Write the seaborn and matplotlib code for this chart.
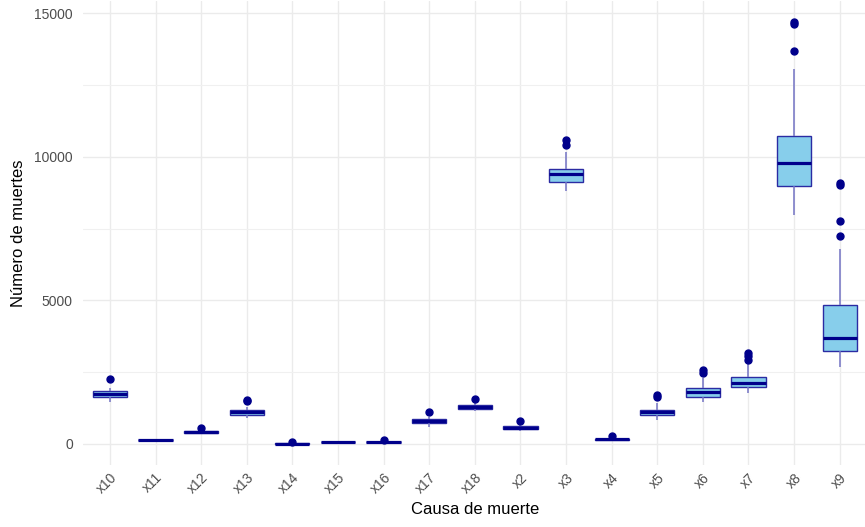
import numpy as np
import pandas as pd
import matplotlib
matplotlib.use("Agg")
import matplotlib.pyplot as plt
import seaborn as sns

# ---- data (summary statistics per cause) ----
causas = ["x10", "x11", "x12", "x13", "x14", "x15", "x16", "x17", "x18",
          "x2", "x3", "x4", "x5", "x6", "x7", "x8", "x9"]
bigote_inf = [1470, 110, 340, 900, 0, 50, 45, 600, 1160,
              450, 8800, 100, 835, 1450, 1785, 7970, 2690]
cuartil_1 = [1625, 125, 390, 1000, 5, 60, 55, 720, 1228,
             510, 9118, 140, 1000, 1650, 1970, 8990, 3247]
mediana = [1740, 140, 420, 1096, 15, 70, 68, 790, 1290,
           567, 9385, 165, 1102, 1800, 2112, 9780, 3678]
cuartil_3 = [1845, 155, 450, 1190, 25, 80, 80, 860, 1347,
             620, 9560, 190, 1183, 1960, 2330, 10718, 4837]
bigote_sup = [1950, 170, 500, 1300, 35, 90, 100, 950, 1430,
              700, 10150, 230, 1416, 2300, 2780, 13040, 6775]
atipicos = [[2250], [], [570], [1490, 1530], [60], [], [130], [1100], [1566],
            [800], [10405, 10580], [280], [1650, 1700], [2480, 2560],
            [2920, 3060, 3170], [13690, 14620, 14700], [7250, 7760, 9013, 9093]]

# expand the read statistics into long-form observations for seaborn
filas = []
for c, lo, q1, md, q3, hi, out in zip(causas, bigote_inf, cuartil_1, mediana,
                                       cuartil_3, bigote_sup, atipicos):
    k = len(out)
    m = k + 3
    vals = [lo] + [q1] * (m + k) + [md] + [q3] * m + [hi] + list(out)
    filas += [(c, v) for v in vals]
df = pd.DataFrame(filas, columns=["causa", "muertes"])

# ---- style ----
sns.set_theme(style="whitegrid")
plt.rcParams["font.family"] = ["Liberation Sans", "DejaVu Sans"]

fig = plt.figure(figsize=(8.65, 5.27), dpi=100)
W, H = 865, 527
left, right, top, bottom = 82.6, 867, 0.6, 465
ax = fig.add_axes([left / W, (H - bottom) / H, (right - left) / W, (bottom - top) / H])
ax.set_facecolor("white")

navy = "#00008B"
sns.boxplot(data=df, x="causa", y="muertes", order=causas, ax=ax,
            width=0.75, color="#87CEEB", saturation=1, linecolor=navy,
            showcaps=False,
            boxprops={"edgecolor": "#2b2ba3", "linewidth": 1.0},
            whiskerprops={"color": "#7373c4", "linewidth": 1.1},
            medianprops={"color": navy, "linewidth": 2.3},
            flierprops={"marker": "o", "markerfacecolor": navy,
                        "markeredgecolor": navy, "markersize": 5.0})

ax.set_xlim(-0.6, 16.6)
ax.set_ylim(-732, 15433)
ax.set_yticks([0, 5000, 10000, 15000])
ax.set_yticks([2500, 7500, 12500], minor=True)
ax.grid(True, which="major", color="#ebebeb", linewidth=1.0)
ax.grid(True, which="minor", axis="y", color="#f0f0f0", linewidth=0.8)
ax.grid(True, which="major", axis="x", color="#ebebeb", linewidth=1.0)
ax.set_axisbelow(True)
for s in ax.spines.values():
    s.set_visible(False)

ax.tick_params(axis="both", which="both", length=0, labelsize=10,
               labelcolor="#4d4d4d")
ax.tick_params(axis="y", pad=7)
ax.tick_params(axis="x", pad=4)
for lbl in ax.get_xticklabels():
    lbl.set_rotation(45)
    lbl.set_ha("right")
    lbl.set_rotation_mode("anchor")

ax.set_xlabel("Causa de muerte", fontsize=12, color="black", labelpad=4)
ax.set_ylabel("Número de muertes", fontsize=12, color="black", labelpad=6)

fig.savefig("out.png", dpi=100)
